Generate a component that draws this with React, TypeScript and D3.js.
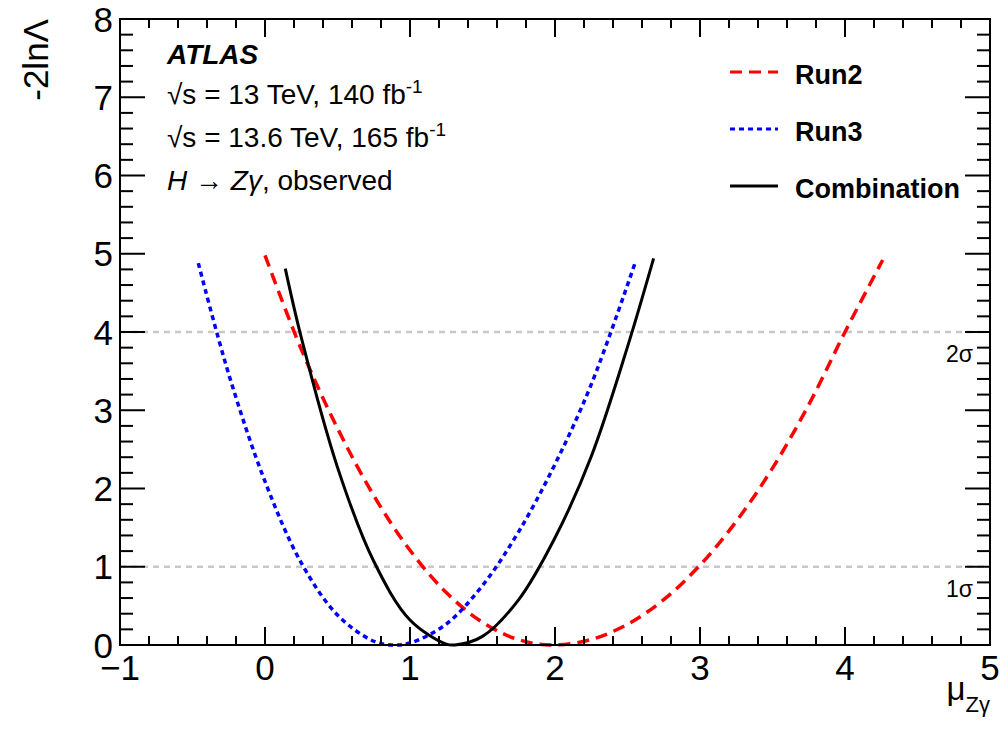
import * as d3 from "d3";

// Run2 profile likelihood scan
const muRun2 = [0.0, 0.25, 0.5, 0.75, 1.0, 1.25, 1.5, 1.75, 1.98, 2.25, 2.5, 2.75, 3.0, 3.25, 3.5, 3.75, 4.0, 4.26];
const nllRun2 = [4.98, 3.78, 2.77, 1.91, 1.21, 0.67, 0.29, 0.067, 0.0, 0.071, 0.265, 0.58, 1.02, 1.58, 2.26, 3.07, 4.0, 4.92];

// Run3
const muRun3 = [-0.46, -0.25, 0.0, 0.25, 0.5, 0.75, 0.89, 1.0, 1.25, 1.5, 1.75, 2.0, 2.25, 2.55];
const nllRun3 = [4.88, 3.46, 2.09, 1.05, 0.383, 0.048, 0.0, 0.025, 0.268, 0.76, 1.45, 2.31, 3.33, 4.87];

// Combination
const muComb = [0.14, 0.25, 0.5, 0.75, 1.0, 1.25, 1.31, 1.5, 1.75, 2.0, 2.25, 2.5, 2.68];
const nllComb = [4.81, 3.93, 2.27, 1.07, 0.32, 0.012, 0.0, 0.11, 0.58, 1.37, 2.41, 3.81, 4.94];

const xTicks = [-1, 0, 1, 2, 3, 4, 5];
const xTickLabels = ["\u22121", "0", "1", "2", "3", "4", "5"];
const yTicks = [0, 1, 2, 3, 4, 5, 6, 7, 8];
const sigmaLevels = [1, 4];
const sigmaLabels = ["1\u03c3", "2\u03c3"];

const legendNames = ["Run2", "Run3", "Combination"];
const seriesColors = ["#ff0000", "#0000ff", "#000000"];
const seriesDash = ["12 7", "5 4", null];

const W = 1007;
const H = 731;
const left = 120;
const right = 990;
const top = 19;
const bottom = 645;
const font = "'Liberation Sans', Arial, Helvetica, sans-serif";

export default function App() {
  const x = d3.scaleLinear().domain([-1, 5]).range([left, right]);
  const y = d3.scaleLinear().domain([0, 8]).range([bottom, top]);

  const line = d3
    .line<[number, number]>()
    .x((d) => x(d[0]))
    .y((d) => y(d[1]))
    .curve(d3.curveCatmullRom.alpha(0.5));

  const series = [
    d3.zip(muRun2, nllRun2) as [number, number][],
    d3.zip(muRun3, nllRun3) as [number, number][],
    d3.zip(muComb, nllComb) as [number, number][],
  ];

  const xMinor = x.ticks(30).filter((t) => !xTicks.includes(t));
  const yMinor = y.ticks(40).filter((t) => !yTicks.includes(Math.round(t * 1000) / 1000));

  return (
    <svg
      width={W}
      height={H}
      style={{ position: "absolute", left: 0, top: 0, background: "#fff" }}
      fontFamily={font}
    >
      {/* sigma reference lines */}
      {sigmaLevels.map((s, i) => (
        <g key={"sig" + s}>
          <line
            x1={left}
            x2={right}
            y1={y(s)}
            y2={y(s)}
            stroke="#c8c8c8"
            strokeWidth={2.5}
            strokeDasharray="6 5"
          />
          <text x={973} y={y(s) + 30} fontSize={23} textAnchor="end">
            {sigmaLabels[i]}
          </text>
        </g>
      ))}

      {/* curves */}
      {series.map((pts, i) => (
        <path
          key={legendNames[i]}
          d={line(pts) ?? ""}
          fill="none"
          stroke={seriesColors[i]}
          strokeWidth={i === 2 ? 3 : 3.5}
          strokeDasharray={seriesDash[i] ?? undefined}
        />
      ))}

      {/* frame */}
      <rect x={left} y={top} width={right - left} height={bottom - top} fill="none" stroke="#000" strokeWidth={2} />

      {/* x ticks, bottom and top */}
      {xTicks.map((t) => (
        <g key={"xt" + t}>
          <line x1={x(t)} x2={x(t)} y1={bottom} y2={bottom - 18} stroke="#000" strokeWidth={2} />
          <line x1={x(t)} x2={x(t)} y1={top} y2={top + 18} stroke="#000" strokeWidth={2} />
        </g>
      ))}
      {xMinor.map((t) => (
        <g key={"xm" + t}>
          <line x1={x(t)} x2={x(t)} y1={bottom} y2={bottom - 9} stroke="#000" strokeWidth={2} />
          <line x1={x(t)} x2={x(t)} y1={top} y2={top + 9} stroke="#000" strokeWidth={2} />
        </g>
      ))}
      {xTicks.map((t, i) => (
        <text key={"xl" + t} x={x(t)} y={680} fontSize={35} textAnchor="middle">
          {xTickLabels[i]}
        </text>
      ))}

      {/* y ticks, left and right */}
      {yTicks.map((t) => (
        <g key={"yt" + t}>
          <line x1={left} x2={left + 25} y1={y(t)} y2={y(t)} stroke="#000" strokeWidth={2} />
          <line x1={right} x2={right - 25} y1={y(t)} y2={y(t)} stroke="#000" strokeWidth={2} />
        </g>
      ))}
      {yMinor.map((t) => (
        <g key={"ym" + t}>
          <line x1={left} x2={left + 13} y1={y(t)} y2={y(t)} stroke="#000" strokeWidth={2} />
          <line x1={right} x2={right - 13} y1={y(t)} y2={y(t)} stroke="#000" strokeWidth={2} />
        </g>
      ))}
      {yTicks.map((t) => (
        <text key={"yl" + t} x={113} y={y(t) + 12.5} fontSize={35} textAnchor="end">
          {t}
        </text>
      ))}

      {/* axis titles */}
      <text transform={`translate(48,${top}) rotate(-90)`} fontSize={35} textAnchor="end">
        -2ln{"\u039b"}
      </text>
      <text x={990} y={700} fontSize={33} textAnchor="end">
        {"\u03bc"}
        <tspan fontSize={22} dy={12}>
          Z{"\u03b3"}
        </tspan>
      </text>

      {/* ATLAS label block */}
      <text x={167} y={64} fontSize={28} fontWeight="bold" fontStyle="italic">
        ATLAS
      </text>
      <text x={167} y={104} fontSize={28}>
        {"\u221as = 13 TeV, 140 fb"}
        <tspan fontSize={19} dy={-11}>-1</tspan>
      </text>
      <text x={167} y={147} fontSize={28}>
        {"\u221as = 13.6 TeV, 165 fb"}
        <tspan fontSize={19} dy={-11}>-1</tspan>
      </text>
      <text x={167} y={190} fontSize={28}>
        <tspan fontStyle="italic">H</tspan>
        {" \u2192 "}
        <tspan fontStyle="italic">Z{"\u03b3"}</tspan>
        {", observed"}
      </text>

      {/* legend */}
      {legendNames.map((name, i) => {
        const ly = 72 + i * 57;
        return (
          <g key={"lg" + name}>
            <line
              x1={730}
              x2={778}
              y1={ly}
              y2={ly}
              stroke={seriesColors[i]}
              strokeWidth={3}
              strokeDasharray={seriesDash[i] ?? undefined}
            />
            <text x={795} y={ly + 12} fontSize={27} fontWeight="bold">
              {name}
            </text>
          </g>
        );
      })}
    </svg>
  );
}
